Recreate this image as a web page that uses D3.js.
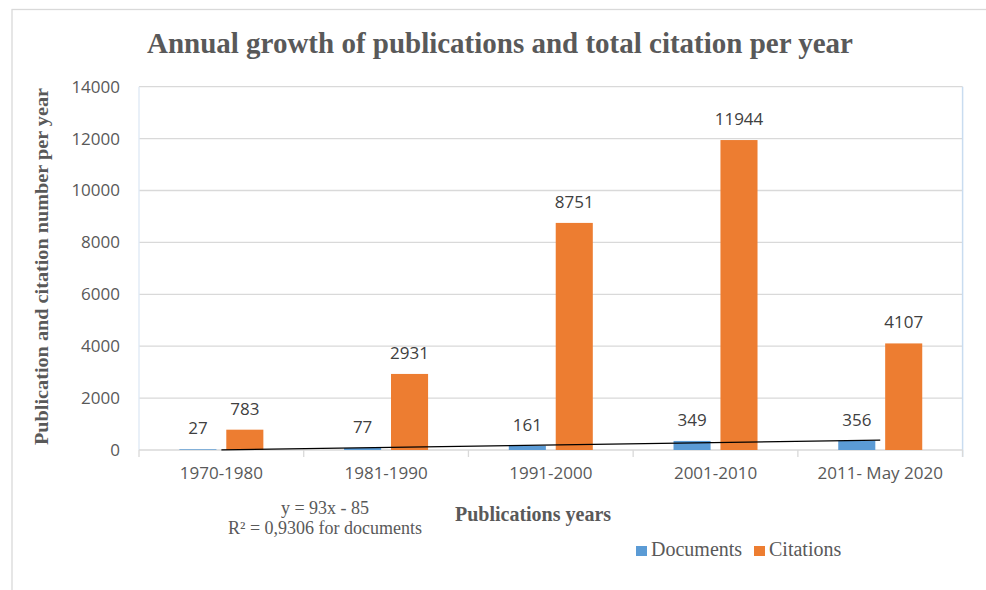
<!DOCTYPE html>
<html>
<head>
<meta charset="utf-8">
<script src="https://cdn.jsdelivr.net/npm/d3@7"></script>
<style>
  html, body { margin: 0; padding: 0; background: #fff; }
  svg { display: block; }
</style>
</head>
<body>
<svg id="chart" width="986" height="590"></svg>
<script>
// Decades of publishing activity
const categories = ["1970-1980", "1981-1990", "1991-2000", "2001-2010", "2011- May 2020"];
const seriesNames = ["Documents", "Citations"];
const documents = [27, 77, 161, 349, 356];
const citations = [783, 2931, 8751, 11944, 4107];
const yTicks = [0, 2000, 4000, 6000, 8000, 10000, 12000, 14000];
// Linear trend fitted to the document counts: y = slope * x + intercept
const trendSlope = 93;
const trendIntercept = -85;
const trendLabel = ["y = 93x - 85", "R\u00B2 = 0,9306 for documents"];

const colors = { Documents: "#5b9bd5", Citations: "#ed7d31" };

const svg = d3.select("#chart");
const W = 986, H = 590;
const plot = { left: 139, right: 962.6, top: 86.7, bottom: 450 };

// Outer frame
svg.append("rect")
  .attr("x", 12).attr("y", 9.5)
  .attr("width", W).attr("height", H)
  .attr("fill", "#fff").attr("stroke", "#d9d9d9").attr("stroke-width", 1.3);

const x0 = d3.scaleBand().domain(categories).range([plot.left, plot.right]).padding(0);
const x1 = d3.scaleBand().domain(seriesNames).range([-42, 42]).paddingInner(0.21);
const y = d3.scaleLinear().domain([0, 14000]).range([plot.bottom, plot.top]);

// Gridlines
svg.append("g").selectAll("line").data(yTicks.filter(d => d > 0)).join("line")
  .attr("x1", plot.left).attr("x2", plot.right)
  .attr("y1", d => y(d)).attr("y2", d => y(d))
  .attr("stroke", "#d9d9d9").attr("stroke-width", 1.3);

// Plot area side borders
svg.append("line").attr("x1", plot.left).attr("x2", plot.left)
  .attr("y1", plot.top).attr("y2", plot.bottom)
  .attr("stroke", "#dde8f4").attr("stroke-width", 1.3);
svg.append("line").attr("x1", plot.right).attr("x2", plot.right)
  .attr("y1", plot.top).attr("y2", plot.bottom + 7)
  .attr("stroke", "#c9dcf0").attr("stroke-width", 1.5);

// Y axis labels
const yAxis = d3.axisLeft(y).tickValues(yTicks).tickSize(0).tickPadding(19).tickFormat(d3.format("d"));
const gy = svg.append("g").attr("transform", `translate(${plot.left},0)`).call(yAxis);
gy.select(".domain").remove();
gy.selectAll("text")
  .attr("fill", "#595959")
  .style("font-family", "'Open Sans', sans-serif")
  .style("font-size", "17px");

// X axis with category labels and boundary ticks
const xAxis = d3.axisBottom(x0).tickSize(0).tickPadding(17);
const gx = svg.append("g").attr("transform", `translate(0,${plot.bottom})`).call(xAxis);
gx.select(".domain").remove();
gx.selectAll("text")
  .attr("fill", "#595959")
  .style("font-family", "'Open Sans', sans-serif")
  .style("font-size", "17px");

svg.append("line").attr("x1", plot.left).attr("x2", plot.right)
  .attr("y1", plot.bottom).attr("y2", plot.bottom)
  .attr("stroke", "#d9d9d9").attr("stroke-width", 1.5);
const boundaries = categories.map(c => x0(c)).concat([x0.range()[1]]);
svg.append("g").selectAll("line").data(boundaries).join("line")
  .attr("x1", d => d).attr("x2", d => d)
  .attr("y1", plot.bottom).attr("y2", plot.bottom + 7)
  .attr("stroke", "#d9d9d9").attr("stroke-width", 1.3);

// Bars
const rows = categories.map((c, i) => ({ cat: c, Documents: documents[i], Citations: citations[i] }));
const groups = svg.append("g").selectAll("g").data(rows).join("g")
  .attr("transform", d => `translate(${x0(d.cat) + x0.bandwidth() / 2},0)`);

groups.selectAll("rect").data(d => seriesNames.map(s => ({ s, v: d[s] }))).join("rect")
  .attr("x", d => x1(d.s))
  .attr("width", x1.bandwidth())
  .attr("y", d => y(d.v))
  .attr("height", d => y(0) - y(d.v))
  .attr("fill", d => colors[d.s]);

// Value labels
groups.selectAll("text.val").data(d => seriesNames.map(s => ({ s, v: d[s] }))).join("text")
  .attr("class", "val")
  .attr("x", d => x1(d.s) + x1.bandwidth() / 2)
  .attr("y", d => y(d.v) - 15)
  .attr("text-anchor", "middle")
  .attr("fill", "#404040")
  .style("font-family", "'Open Sans', sans-serif")
  .style("font-size", "17px")
  .text(d => d.v);

// Trend line over the document series (x = 1..n)
const trendPts = categories.map((c, i) => [x0(c) + x0.bandwidth() / 2, y(trendSlope * (i + 1) + trendIntercept)]);
svg.append("path")
  .attr("d", d3.line()([trendPts[0], trendPts[trendPts.length - 1]]))
  .attr("stroke", "#000").attr("stroke-width", 1.3).attr("fill", "none");

// Title
svg.append("text")
  .attr("x", 500).attr("y", 53)
  .attr("text-anchor", "middle")
  .attr("fill", "#595959")
  .attr("textLength", 706).attr("lengthAdjust", "spacingAndGlyphs")
  .style("font-family", "'Liberation Serif', 'Times New Roman', serif")
  .style("font-weight", "bold")
  .style("font-size", "29px")
  .text("Annual growth of publications and total citation per year");

// Y axis title
svg.append("text")
  .attr("transform", `translate(48,${(88 + 445) / 2}) rotate(-90)`)
  .attr("text-anchor", "middle")
  .attr("fill", "#595959")
  .attr("textLength", 357).attr("lengthAdjust", "spacingAndGlyphs")
  .style("font-family", "'Liberation Serif', 'Times New Roman', serif")
  .style("font-weight", "bold")
  .style("font-size", "19px")
  .text("Publication and citation number per year");

// X axis title
svg.append("text")
  .attr("x", 533).attr("y", 521)
  .attr("text-anchor", "middle")
  .attr("fill", "#595959")
  .style("font-family", "'Liberation Serif', 'Times New Roman', serif")
  .style("font-weight", "bold")
  .style("font-size", "20px")
  .text("Publications years");

// Trend equation
svg.append("g").selectAll("text").data(trendLabel).join("text")
  .attr("x", 325).attr("y", (d, i) => 514 + i * 20)
  .attr("text-anchor", "middle")
  .attr("fill", "#595959")
  .style("font-family", "'Liberation Serif', 'Times New Roman', serif")
  .style("font-size", "18px")
  .text(d => d);

// Legend
const legendItems = [
  { name: "Documents", x: 636 },
  { name: "Citations", x: 754 }
];
const lg = svg.append("g").selectAll("g").data(legendItems).join("g")
  .attr("transform", d => `translate(${d.x},546)`);
lg.append("rect").attr("width", 11).attr("height", 10).attr("fill", d => colors[d.name]);
lg.append("text")
  .attr("x", 15).attr("y", 10)
  .attr("fill", "#595959")
  .style("font-family", "'Liberation Serif', 'Times New Roman', serif")
  .style("font-size", "20px")
  .text(d => d.name);
</script>
</body>
</html>
